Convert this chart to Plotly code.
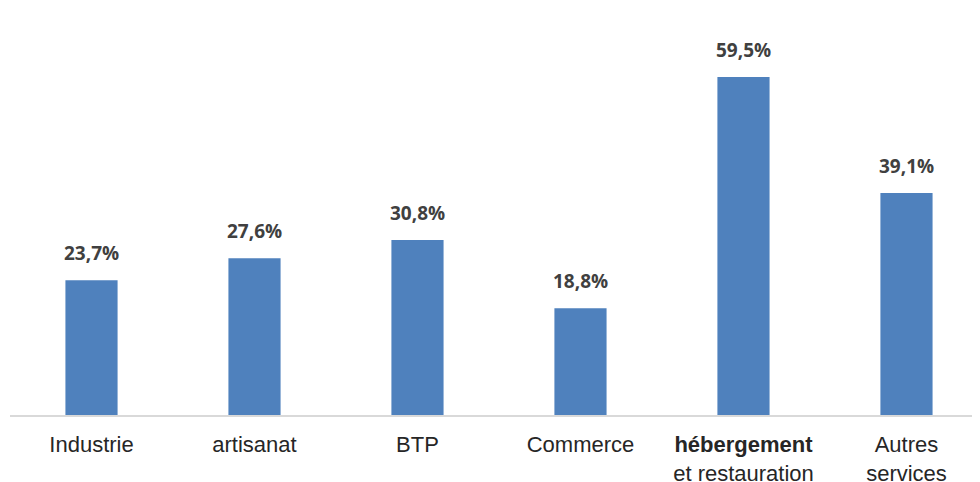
import plotly.graph_objects as go

categories = ["Industrie", "artisanat", "BTP", "Commerce",
              "<b>hébergement</b><br>et restauration", "Autres<br>services"]
values = [23.7, 27.6, 30.8, 18.8, 59.5, 39.1]
labels = ["23,7%", "27,6%", "30,8%", "18,8%", "59,5%", "39,1%"]

xs = list(range(len(categories)))
fig = go.Figure(go.Bar(
    x=xs, y=values,
    marker=dict(color="#4F81BD", line=dict(width=0)),
    width=0.32,
))
for x, v, t in zip(xs, values, labels):
    fig.add_annotation(x=x, y=v, text="<b>%s</b>" % t, showarrow=False,
                       yanchor="bottom", yshift=12,
                       font=dict(family="Open Sans", size=19, color="#404040"))
fig.update_layout(
    width=972, height=474,
    margin=dict(l=2, r=0, t=0, b=67, autoexpand=False),
    paper_bgcolor="white", plot_bgcolor="white",
    showlegend=False,
    xaxis=dict(range=[-0.5, 5.451], tickvals=xs, automargin=False,
               ticktext=categories, showgrid=False, zeroline=False,
               showline=True, linecolor="#D9D9D9", linewidth=1.5,
               ticks="outside", ticklen=9, tickcolor="rgba(0,0,0,0)",
               tickfont=dict(family="Liberation Sans", size=22, color="#262626")),
    yaxis=dict(range=[0, 71.65], visible=False, automargin=False),
)
fig.write_html("out.html")
